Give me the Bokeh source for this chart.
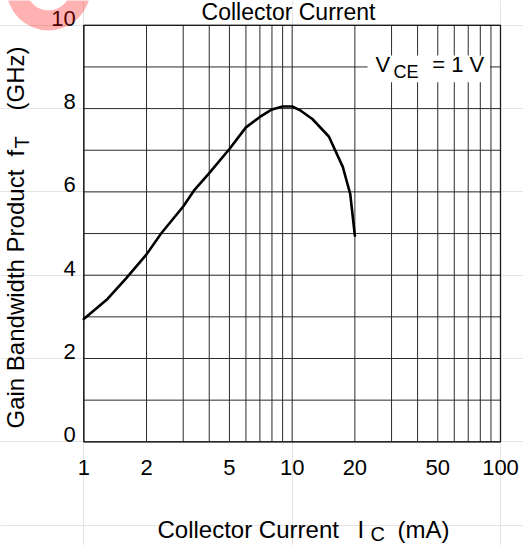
from bokeh.plotting import figure
from bokeh.models import Range1d
from bokeh.core.properties import value
from bokeh.embed import file_html
from bokeh.resources import INLINE
import math

# ---- data ----
ic_ma = [1, 1.3, 1.6, 2, 2.35, 3, 3.4, 4, 5, 6, 7, 8, 9, 10, 11, 12.5, 15, 17.5, 19, 20]
ft_ghz = [2.95, 3.43, 3.93, 4.5, 5.0, 5.65, 6.05, 6.45, 7.03, 7.55, 7.8, 7.98, 8.05, 8.05,
          7.95, 7.75, 7.33, 6.6, 5.95, 4.95]

x_min, x_max = 1, 100
y_min, y_max = 0, 10
x_major_ticks = [1, 2, 5, 10, 20, 50, 100]
x_tick_labels = ["1", "2", "5", "10", "20", "50", "100"]
x_minor_ticks = [3, 4, 6, 7, 8, 9, 30, 40, 60, 70, 80, 90]
y_major_ticks = [0, 2, 4, 6, 8, 10]
y_tick_labels = ["0", "2", "4", "6", "8", "10"]
y_minor_ticks = [1, 3, 5, 7, 9]

title_text = "Collector Current"
x_label_main = "Collector Current"
x_label_sym = "I"
x_label_sub = "C"
x_label_unit = "(mA)"
y_label_main = "Gain Bandwidth Product"
y_label_sym = "f"
y_label_sub = "T"
y_label_unit = "(GHz)"
cond_sym = "V"
cond_sub = "CE"
cond_rest = "= 1 V"

FONT = "Liberation Sans"
GRID = "#2b2b2b"
BASE_FIX = 0.37  # measured baseline correction of the text glyph, in em

# ---- layout: plot frame sits at pixels 83.3..500 (x) and 24.8..441.3 (y) of the page ----
W, H = 523, 545
FL, FR, FT, FB = 83.3, 500.0, 24.8, 441.3
def dx(px):
    return x_min * (x_max / x_min) ** ((px - FL) / (FR - FL))
def dy(py):
    return y_min + (y_max - y_min) * (FB - py) / (FB - FT)

p = figure(width=W, height=H, x_axis_type="log",
           x_range=Range1d(dx(0), dx(W)), y_range=Range1d(dy(H), dy(0)),
           x_axis_location=None, y_axis_location=None,
           min_border=0, output_backend="svg", toolbar_location=None)
p.outline_line_color = None
p.background_fill_color = "white"
p.border_fill_color = "white"

# grid lines (from the tick arrays)
xg = x_major_ticks + x_minor_ticks
p.segment(x0=xg, x1=xg, y0=[y_min] * len(xg), y1=[y_max] * len(xg),
          line_color=GRID, line_width=1)
yg = y_major_ticks + y_minor_ticks
p.segment(x0=[x_min] * len(yg), x1=[x_max] * len(yg), y0=yg, y1=yg,
          line_color=GRID, line_width=1)
# frame
p.quad(left=[x_min], right=[x_max], bottom=[y_min], top=[y_max],
       fill_color=None, line_color="#1a1a1a", line_width=1.3)

# condition box (white patch over the grid)
p.quad(left=[dx(367)], right=[dx(489.5)], bottom=[dy(81.7)], top=[dy(55)],
       fill_color="white", line_color=None)

# curve
p.line(ic_ma, ft_ghz, line_color="black", line_width=2.6,
       line_cap="round", line_join="round")

# tick labels
p.text(x=x_major_ticks, y=[y_min] * len(x_major_ticks), text=x_tick_labels,
       y_offset=34 - BASE_FIX * 22, text_align="center", text_baseline="alphabetic",
       text_font=value(FONT), text_font_size=value("22px"), text_color="black")
p.text(x=[x_min] * len(y_major_ticks), y=y_major_ticks, text=y_tick_labels,
       x_offset=-8, y_offset=1 - BASE_FIX * 22, text_align="right", text_baseline="alphabetic",
       text_font=value(FONT), text_font_size=value("22px"), text_color="black")

def lab(text, px, py, size, angle=0.0, align="left"):
    fix = BASE_FIX * size
    if angle:
        xo, yo = -fix, 0
    else:
        xo, yo = 0, -fix
    p.text(x=[dx(px)], y=[dy(py)], text=[text], angle=angle,
           x_offset=xo, y_offset=yo,
           text_align=align, text_baseline="alphabetic",
           text_font=value(FONT), text_font_size=value(f"{size}px"), text_color="black")

lab(cond_sym, 375, 71.7, 22)
lab(cond_sub, 393, 78.3, 18)
lab(cond_rest, 431.7, 71.7, 22)

# title (kept fully inside the page)
lab(title_text, 288, 20, 23, align="center")

# x axis label
lab(x_label_main, 157, 538, 24)
lab(x_label_sym, 357, 538, 24)
lab(x_label_sub, 370, 541, 20)
lab(x_label_unit, 397, 538, 24)

# y axis label (rotated)
a = math.pi / 2
lab(y_label_main, 23.5, 428, 24, angle=a)
lab(y_label_sym, 23.5, 156, 24, angle=a)
lab(y_label_sub, 28.5, 148, 20, angle=a)
lab(y_label_unit, 23.5, 110, 24, angle=a)

# faint red watermark fragment at the top-left corner (drawn over, semi-transparent)
p.annulus(x=[dx(48)], y=[dy(-12)], inner_radius=22, outer_radius=42,
          inner_radius_units="screen", outer_radius_units="screen",
          fill_color="red", fill_alpha=0.3, line_color=None)

open("out.html", "w").write(file_html(p, INLINE))
